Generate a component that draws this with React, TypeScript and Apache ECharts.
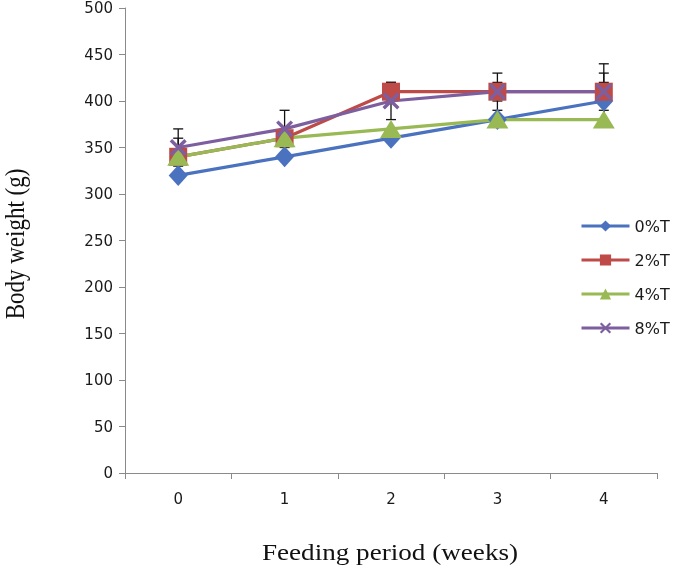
import React, { useEffect, useRef } from "react";
import * as echarts from "echarts";

const weeks = ["0", "1", "2", "3", "4"];
const seriesNames = ["0%T", "2%T", "4%T", "8%T"];
const t0 = [320, 340, 360, 380, 400];
const t2 = [340, 360, 410, 410, 410];
const t4 = [340, 360, 370, 380, 380];
const t8 = [350, 370, 400, 410, 410];
const err0 = [0, 0, 0, 0, 20];
const err2 = [0, 0, 10, 10, 20];
const err4 = [20, 0, 0, 0, 0];
const err8 = [20, 20, 20, 20, 30];
const yTicks = { min: 0, max: 500, interval: 50 };

const colors = ["#4A72BE", "#BE4B48", "#98B954", "#7D5FA0"];
const crossPath =
  "path://M0,1.4L1.4,0L5,3.6L8.6,0L10,1.4L6.4,5L10,8.6L8.6,10L5,6.4L1.4,10L0,8.6L3.6,5Z";

export default function App() {
  const ref = useRef<HTMLDivElement>(null);
  useEffect(() => {
    if (!ref.current) return;
    document.body.style.margin = "0";
    document.body.style.overflow = "hidden";
    const chart = echarts.init(ref.current, null, { renderer: "svg" });
    const values = [t0, t2, t4, t8];
    const errs = [err0, err2, err4, err8];
    const errData: number[][] = [];
    values.forEach((vals, s) => {
      vals.forEach((v, i) => {
        if (errs[s][i] > 0) errData.push([i, v, errs[s][i]]);
      });
    });
    const symbols = ["diamond", "rect", "triangle", crossPath];
    const sizes: any[] = [[19, 21], 18, [22, 18], 17];
    const tickFont = { fontFamily: "DejaVu Sans", fontSize: 15, color: "#1a1a1a" };
    chart.setOption({
      animation: false,
      grid: { left: 125, right: 17, top: 8, bottom: 95, containLabel: false },
      legend: {
        orient: "vertical",
        left: 580,
        top: 218,
        padding: 0,
        itemWidth: 48,
        itemHeight: 14,
        itemGap: 18,
        data: seriesNames,
        lineStyle: { width: 3 },
        textStyle: { fontFamily: "DejaVu Sans", fontSize: 16, color: "#1a1a1a" },
      },
      xAxis: {
        type: "category",
        data: weeks,
        boundaryGap: true,
        axisLine: { lineStyle: { color: "#8a8a8a", width: 1 } },
        axisTick: { show: true, interval: 0, length: 6, lineStyle: { color: "#8a8a8a" } },
        axisLabel: { ...tickFont, margin: 18 },
      },
      yAxis: {
        type: "value",
        min: yTicks.min,
        max: yTicks.max,
        interval: yTicks.interval,
        axisLine: { show: true, lineStyle: { color: "#8a8a8a", width: 1 } },
        axisTick: { show: true, length: 6, lineStyle: { color: "#8a8a8a" } },
        splitLine: { show: false },
        axisLabel: { ...tickFont, margin: 12 },
      },
      graphic: [
        {
          type: "text",
          x: 390,
          y: 552,
          scaleX: 1.18,
          style: {
            text: "Feeding period (weeks)",
            font: "23px 'Liberation Serif'",
            fill: "#111",
            textAlign: "center",
            textVerticalAlign: "middle",
          },
        },
        {
          type: "text",
          x: 15,
          y: 244,
          rotation: Math.PI / 2,
          scaleY: 1.18,
          style: {
            text: "Body weight (g)",
            font: "23px 'Liberation Serif'",
            fill: "#111",
            textAlign: "center",
            textVerticalAlign: "middle",
          },
        },
      ],
      series: [
        {
          type: "custom",
          name: "err",
          silent: true,
          z: 1,
          data: errData,
          encode: { x: 0, y: 1 },
          renderItem: (params: any, api: any) => {
            const x = api.value(0);
            const v = api.value(1);
            const e = api.value(2);
            const top = api.coord([x, v + e]);
            const bot = api.coord([x, v - e]);
            const hw = 5;
            const st = { stroke: "#111", lineWidth: 1.3 };
            return {
              type: "group",
              children: [
                { type: "line", shape: { x1: top[0], y1: top[1], x2: bot[0], y2: bot[1] }, style: st },
                { type: "line", shape: { x1: top[0] - hw, y1: top[1], x2: top[0] + hw, y2: top[1] }, style: st },
                { type: "line", shape: { x1: bot[0] - hw, y1: bot[1], x2: bot[0] + hw, y2: bot[1] }, style: st },
              ],
            };
          },
        },
        ...values.map((vals, s) => ({
          type: "line",
          name: seriesNames[s],
          data: vals,
          z: 3,
          symbol: symbols[s],
          symbolSize: sizes[s],
          showAllSymbol: true,
          lineStyle: { color: colors[s], width: 3.2 },
          itemStyle: { color: colors[s], borderColor: colors[s], borderWidth: 0 },
        })),
      ],
    });
    return () => chart.dispose();
  }, []);
  return (
    <div
      ref={ref}
      style={{ position: "fixed", left: 0, top: 0, width: 674, height: 568 }}
    />
  );
}
